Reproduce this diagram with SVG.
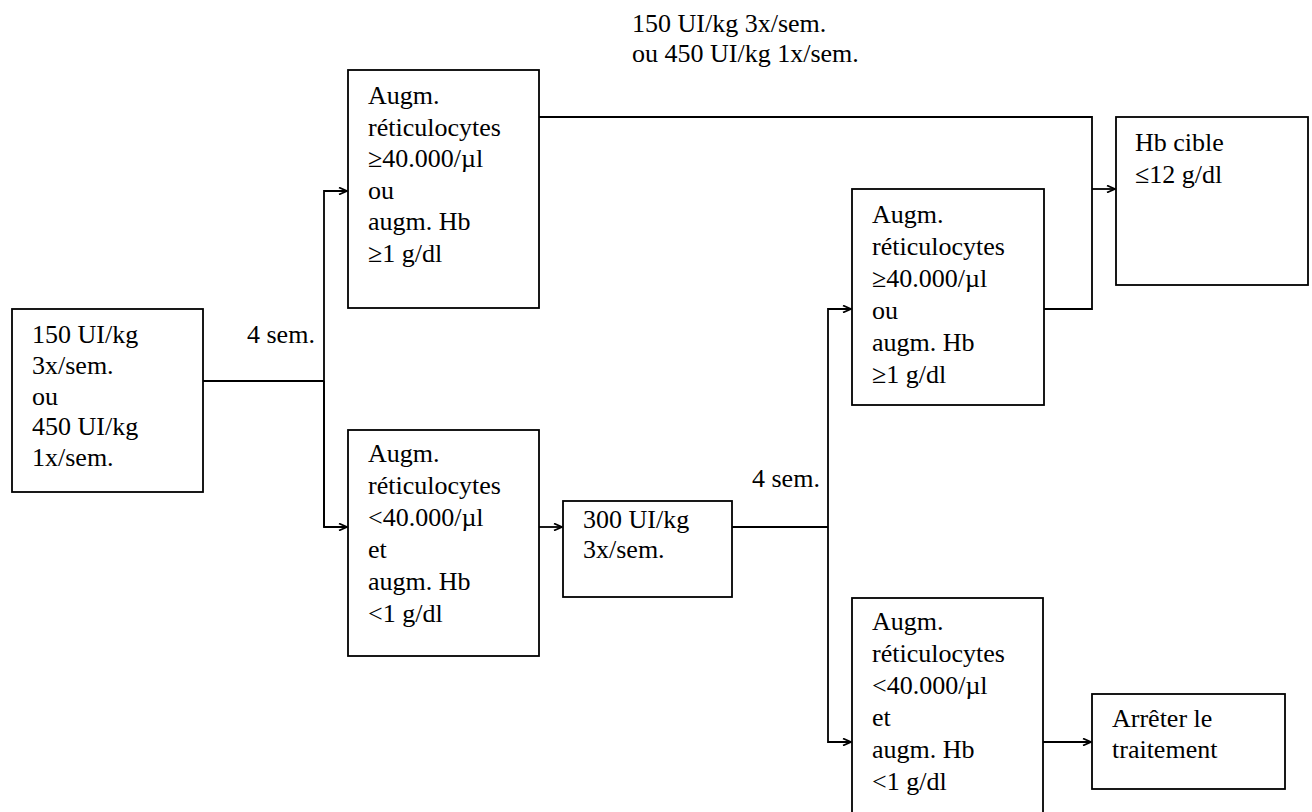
<svg xmlns="http://www.w3.org/2000/svg" width="1312" height="812" viewBox="0 0 1312 812">
<style>
.box{fill:#fff;stroke:#000;stroke-width:1.8}
.t{font-family:"Liberation Serif","Times New Roman",serif;font-size:26px;fill:#000}
.c{fill:none;stroke:#000;stroke-width:1.8}
</style>
<defs>
<marker id="ah" markerWidth="10" markerHeight="8" refX="9" refY="4" orient="auto" markerUnits="userSpaceOnUse">
<path d="M1,0.5 L9,4 L1,7.5" fill="none" stroke="#000" stroke-width="1.8"/>
</marker>
</defs>
<rect width="1312" height="812" fill="#fff"/>
<g id="connectors">
<path class="c" d="M203,381 H324"/>
<path class="c" d="M324,527 V191 H347" marker-end="url(#ah)"/>
<path class="c" d="M324,381 V527 H347" marker-end="url(#ah)"/>
<path class="c" d="M539,527 H562" marker-end="url(#ah)"/>
<path class="c" d="M539,117 H1092 V309 H1044"/>
<path class="c" d="M1092,189 H1115" marker-end="url(#ah)"/>
<path class="c" d="M732,527 H828"/>
<path class="c" d="M828,527 V309 H851" marker-end="url(#ah)"/>
<path class="c" d="M828,527 V742 H851" marker-end="url(#ah)"/>
<path class="c" d="M1043,742 H1091" marker-end="url(#ah)"/>
<text class="t" x="247" y="343">4 sem.</text>
<text class="t" x="752" y="487">4 sem.</text>
<text class="t" x="632" y="32">150 UI/kg 3x/sem.</text>
<text class="t" x="632" y="62">ou 450 UI/kg 1x/sem.</text>
</g>
<g id="start">
<rect class="box" x="12" y="309" width="191" height="183"/>
<text class="t" x="32" y="343">150 UI/kg</text>
<text class="t" x="32" y="374">3x/sem.</text>
<text class="t" x="32" y="405">ou</text>
<text class="t" x="32" y="435">450 UI/kg</text>
<text class="t" x="32" y="466">1x/sem.</text>
</g>
<g id="resp1">
<rect class="box" x="348" y="70" width="191" height="238"/>
<text class="t" x="368" y="104">Augm.</text>
<text class="t" x="368" y="135.5">réticulocytes</text>
<text class="t" x="368" y="167">≥40.000/µl</text>
<text class="t" x="368" y="198.5">ou</text>
<text class="t" x="368" y="230">augm. Hb</text>
<text class="t" x="368" y="261.5">≥1 g/dl</text>
</g>
<g id="noresp1">
<rect class="box" x="348" y="430" width="191" height="226"/>
<text class="t" x="368" y="462">Augm.</text>
<text class="t" x="368" y="494">réticulocytes</text>
<text class="t" x="368" y="526">&lt;40.000/µl</text>
<text class="t" x="368" y="558">et</text>
<text class="t" x="368" y="590">augm. Hb</text>
<text class="t" x="368" y="622">&lt;1 g/dl</text>
</g>
<g id="dose300">
<rect class="box" x="563" y="501" width="169" height="96"/>
<text class="t" x="583" y="528">300 UI/kg</text>
<text class="t" x="583" y="558">3x/sem.</text>
</g>
<g id="resp2">
<rect class="box" x="852" y="189" width="192" height="216"/>
<text class="t" x="872" y="223">Augm.</text>
<text class="t" x="872" y="255">réticulocytes</text>
<text class="t" x="872" y="287">≥40.000/µl</text>
<text class="t" x="872" y="319">ou</text>
<text class="t" x="872" y="351">augm. Hb</text>
<text class="t" x="872" y="383">≥1 g/dl</text>
</g>
<g id="noresp2">
<rect class="box" x="852" y="598" width="191" height="222"/>
<text class="t" x="872" y="630">Augm.</text>
<text class="t" x="872" y="662">réticulocytes</text>
<text class="t" x="872" y="694">&lt;40.000/µl</text>
<text class="t" x="872" y="726">et</text>
<text class="t" x="872" y="758">augm. Hb</text>
<text class="t" x="872" y="790">&lt;1 g/dl</text>
</g>
<g id="target">
<rect class="box" x="1116" y="117" width="192" height="168"/>
<text class="t" x="1135" y="151">Hb cible</text>
<text class="t" x="1135" y="183">≤12 g/dl</text>
</g>
<g id="stop">
<rect class="box" x="1092" y="694" width="193" height="95"/>
<text class="t" x="1112" y="727">Arrêter le</text>
<text class="t" x="1112" y="758">traitement</text>
</g>
</svg>
